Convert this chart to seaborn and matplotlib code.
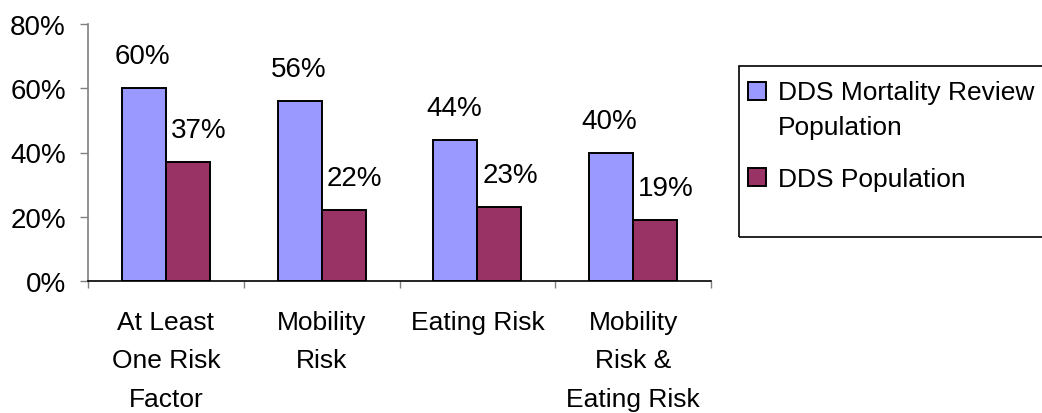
import matplotlib
matplotlib.use("Agg")
import matplotlib.pyplot as plt
import seaborn as sns
import pandas as pd
from matplotlib.patches import Patch, Rectangle
from matplotlib.legend_handler import HandlerPatch
from matplotlib.ticker import PercentFormatter

# Chart data
categories = ["At Least\nOne Risk\nFactor", "Mobility\nRisk", "Eating Risk",
              "Mobility\nRisk &\nEating Risk"]
series_names = ["DDS Mortality Review\nPopulation", "DDS Population"]
mortality_review_pct = [60, 56, 44, 40]
dds_population_pct = [37, 22, 23, 19]
y_ticks = [0.0, 0.2, 0.4, 0.6, 0.8]

colors = ["#9999FF", "#993366"]
FS = 20

df = pd.DataFrame({
    "category": categories * 2,
    "group": [series_names[0]] * len(categories) + [series_names[1]] * len(categories),
    "value": [v / 100 for v in mortality_review_pct + dds_population_pct],
})

sns.set_theme(style="white")
plt.rcParams["font.family"] = ["Liberation Sans", "DejaVu Sans"]
plt.rcParams["text.color"] = "black"
plt.rcParams["xtick.labelcolor"] = "black"
plt.rcParams["ytick.labelcolor"] = "black"

W, H = 1042, 414
fig = plt.figure(figsize=(W / 100, H / 100), dpi=100)
ax = fig.add_axes([88 / W, 1 - 282 / H, (711 - 88) / W, (282 - 25) / H])

sns.barplot(data=df, x="category", y="value", hue="group", order=categories,
            hue_order=series_names, palette=colors, width=0.565, gap=0,
            edgecolor="black", linewidth=1.4, saturation=1, legend=False, ax=ax)

# value labels above each bar
offsets = [-1, 8]
for container, dx in zip(ax.containers, offsets):
    for bar in container:
        h = bar.get_height()
        ax.annotate(f"{round(h * 100):d}%",
                    (bar.get_x() + bar.get_width() / 2, h),
                    xytext=(dx, 23), textcoords="offset points",
                    ha="center", va="center", fontsize=FS, color="black")

ax.set_ylim(0, 0.8)
ax.set_xlim(-0.5, len(categories) - 0.5)
ax.set_yticks(y_ticks)
ax.yaxis.set_major_formatter(PercentFormatter(1.0, decimals=0))
ax.set_xticks([i - 0.5 for i in range(len(categories) + 1)], labels=[])
ax.set_xticks(range(len(categories)), labels=categories, minor=True)
ax.set_xlabel("")
ax.set_ylabel("")

for side in ("top", "right"):
    ax.spines[side].set_visible(False)
ax.spines["left"].set_color("#808080")
ax.spines["bottom"].set_color("black")
ax.spines["left"].set_linewidth(1.2)
ax.spines["bottom"].set_linewidth(1.2)

ax.tick_params(axis="y", which="major", direction="out", length=6, width=1,
               color="#808080", pad=10, labelsize=FS, left=True)
ax.tick_params(axis="x", which="major", direction="out", length=5, width=1,
               color="#808080", bottom=True)
ax.tick_params(axis="x", which="minor", length=0, pad=21, labelsize=19)
for lbl in ax.get_xticklabels(minor=True):
    lbl.set_linespacing(1.75)

# legend frame (runs past the right edge of the figure)
fig.add_artist(Rectangle((739 / W, 1 - 238 / H), 400 / W, 171 / H,
                         transform=fig.transFigure, fill=False,
                         edgecolor="black", linewidth=1.2))


def top_line_patch(legend, orig_handle, xdescent, ydescent, width, height, fontsize):
    # keep the swatch level with the first line of a wrapped label
    lines = legend_line_counts.get(id(orig_handle), 1)
    shift = (lines - 1) * 13.5
    return Rectangle((-xdescent, -ydescent + shift), width, height)


handles = [Patch(facecolor=c, edgecolor="black", linewidth=1.4) for c in colors]
legend_line_counts = {id(h): lab.count("\n") + 1 for h, lab in zip(handles, series_names)}
leg = fig.legend(handles, series_names, loc="upper left",
                 bbox_to_anchor=(748 / W, 1 - 81 / H), frameon=False, fontsize=19,
                 handlelength=0.7, handleheight=0.7, handletextpad=0.45,
                 labelspacing=1.05, borderpad=0, borderaxespad=0,
                 handler_map={Patch: HandlerPatch(patch_func=top_line_patch)})
for t in leg.get_texts():
    t.set_linespacing(1.6)

fig.savefig("out.png", dpi=100)
